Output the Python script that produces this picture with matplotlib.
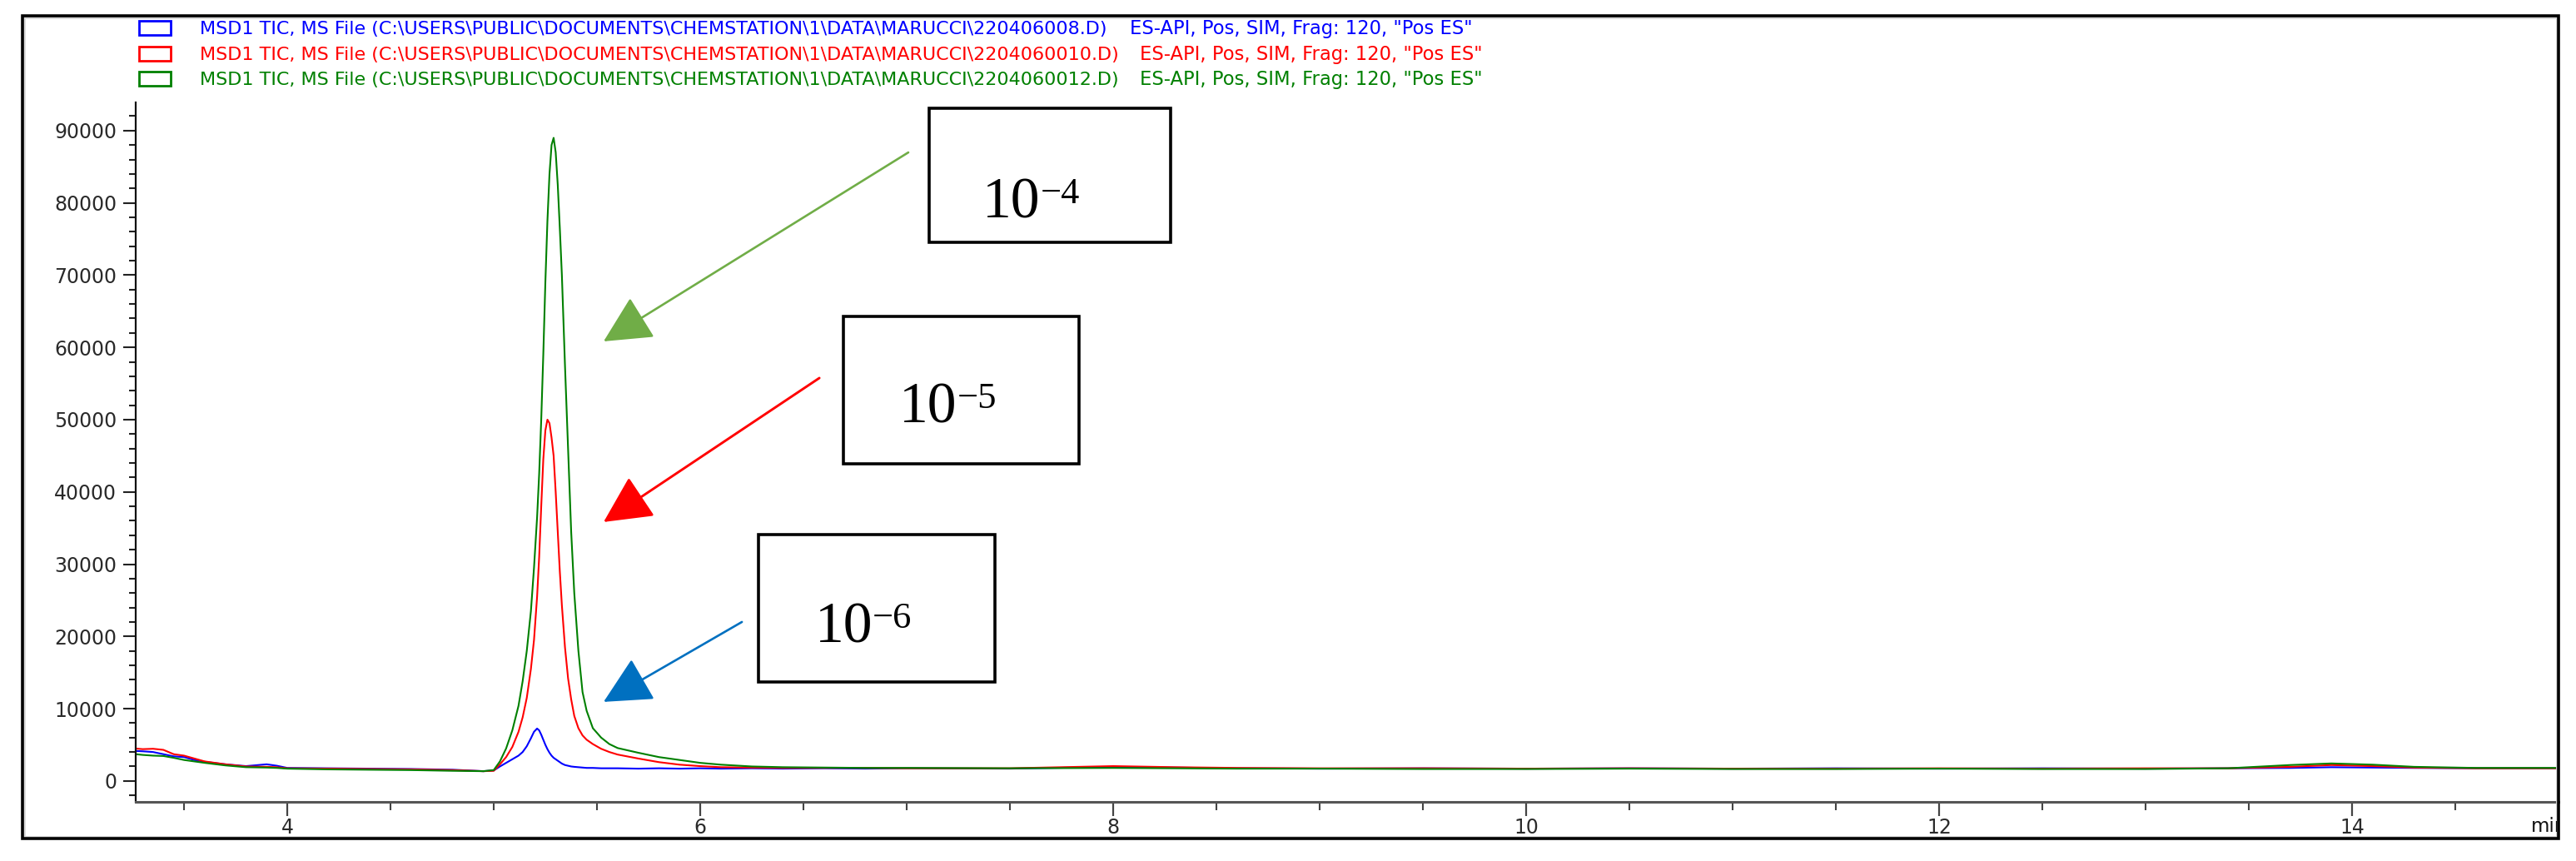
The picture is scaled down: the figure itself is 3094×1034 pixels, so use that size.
import matplotlib
matplotlib.use('Agg')
import matplotlib.pyplot as plt
from matplotlib.patches import Rectangle, FancyArrowPatch
from matplotlib.transforms import Bbox

W, H = 3094, 1034

# retention time (min)
time = [3.266, 3.3, 3.35, 3.4, 3.45, 3.5, 3.55, 3.6, 3.7, 3.8, 3.9, 3.95, 4.0, 4.2, 4.4, 4.6, 4.8, 4.95,
        5.0, 5.03, 5.06, 5.09, 5.12, 5.14, 5.16, 5.18, 5.195, 5.21, 5.22, 5.23, 5.24, 5.25, 5.26, 5.27,
        5.28, 5.29, 5.30, 5.31, 5.32, 5.33, 5.345, 5.36, 5.375, 5.39, 5.41, 5.43, 5.45, 5.48, 5.52, 5.56, 5.6,
        5.7, 5.8, 5.9, 6.0, 6.1, 6.25, 6.4, 6.6, 6.8, 7.0, 7.5, 8.0, 8.3, 8.6, 9.0, 9.5, 10.0, 10.5,
        11.0, 11.5, 12.0, 12.5, 13.0, 13.4, 13.7, 13.9, 14.1, 14.3, 14.6, 15.0]

tic_008 = [4150, 4100, 4000, 3700, 3400, 3300, 2900, 2650, 2300, 2050, 2300, 2100, 1800, 1750, 1700, 1650, 1550, 1350,
           1450, 2000, 2500, 3000, 3500, 4000, 4800, 5900, 6800, 7250, 7000, 6400, 5700, 5000, 4400, 3900,
           3500, 3200, 3000, 2800, 2600, 2400, 2200, 2100, 2000, 1950, 1900, 1850, 1800, 1800, 1750, 1750, 1750,
           1700, 1750, 1700, 1750, 1700, 1750, 1700, 1750, 1700, 1750, 1700, 1950, 1850, 1750, 1700, 1750, 1700, 1750,
           1700, 1750, 1700, 1750, 1700, 1750, 1800, 1900, 1850, 1800, 1750, 1750]

tic_010 = [4480, 4400, 4450, 4300, 3700, 3500, 3100, 2700, 2300, 2000, 1950, 1900, 1750, 1700, 1650, 1600, 1500, 1350,
           1400, 2300, 3300, 4700, 6800, 8800, 11500, 15500, 19500, 25500, 31000, 38000, 44500, 48500, 50000, 49500,
           47500, 45000, 40000, 34500, 29000, 24300, 18500, 14200, 11300, 9000, 7300, 6300, 5700, 5100, 4450, 4000, 3650,
           3100, 2600, 2250, 2050, 1900, 1850, 1800, 1800, 1800, 1750, 1750, 2050, 1900, 1800, 1750, 1750, 1700, 1750,
           1700, 1700, 1750, 1700, 1750, 1750, 1950, 2200, 2050, 1850, 1750, 1750]

tic_012 = [3700, 3600, 3500, 3450, 3200, 2900, 2700, 2500, 2150, 1900, 1850, 1800, 1700, 1600, 1550, 1500, 1400, 1350,
           1500, 2700, 4500, 7000, 10400, 13800, 18000, 23500, 29500, 36500, 42500, 50000, 59000, 69000, 77500, 84000,
           88000, 89000, 87000, 82500, 76500, 70000, 57500, 46000, 34500, 26000, 18000, 12300, 9700, 7300, 6000, 5100, 4550,
           3900, 3300, 2900, 2500, 2250, 2000, 1900, 1850, 1800, 1800, 1750, 1800, 1750, 1700, 1700, 1650, 1650, 1700,
           1650, 1650, 1700, 1650, 1650, 1750, 2200, 2420, 2250, 1950, 1800, 1800]

files = ["220406008.D", "2204060010.D", "2204060012.D"]
colors = ["#0000ff", "#ff0000", "#008000"]
labels = ["4", "5", "6"]
xticks = [4, 6, 8, 10, 12, 14]
yticks = [0, 10000, 20000, 30000, 40000, 50000, 60000, 70000, 80000, 90000]

sans = ['DejaVu Sans']
serif = ['Liberation Serif', 'DejaVu Serif']


def fx(px):
    return px / W


def fy(py):
    return 1 - py / H


fig = plt.figure(figsize=(W / 100, H / 100), dpi=100)
ax = fig.add_axes([fx(163), fy(963), fx(3073) - fx(163), fy(123) - fy(963)])

for y, c in zip([tic_008, tic_010, tic_012], colors):
    ax.plot(time, y, color=c, lw=1.5)

ax.set_xlim(3.266, 15.0)
ax.set_ylim(-2900, 93900)
ax.set_xticks(xticks)
ax.set_xticklabels([str(t) for t in xticks])
ax.set_xticks([x / 2 for x in range(7, 30)], minor=True)
ax.set_yticks(yticks)
ax.set_yticklabels([str(t) for t in yticks])
ax.set_yticks(list(range(-2000, 94000, 2000)), minor=True)

for s in ['top', 'right']:
    ax.spines[s].set_visible(False)
ax.spines['left'].set_linewidth(1.6)
ax.spines['left'].set_color('#111111')
ax.spines['bottom'].set_linewidth(2.2)
ax.spines['bottom'].set_color('#555555')

ax.tick_params(axis='y', which='major', length=10.8, width=1.5, pad=5.5, color='#222222')
ax.tick_params(axis='y', which='minor', length=5.8, width=1.5, color='#222222')
ax.tick_params(axis='x', which='major', length=12, width=1.6, pad=2.0, color='#444444')
ax.tick_params(axis='x', which='minor', length=7, width=1.5, color='#444444')
for lab in ax.get_xticklabels() + ax.get_yticklabels():
    lab.set_family(sans)
    lab.set_fontsize(17)
    lab.set_color('#2a2a2a')

# "min" unit label, cut by the frame
t = fig.text(fx(3040), fy(999), "min", family=sans, fontsize=16.5, color='#111111', va='baseline')
t.set_clip_box(Bbox.from_extents(0, 0, 3071, H))
t.set_clip_on(True)

# legend header
head_y = [41, 72, 102]
second_x = [1357, 1369, 1369]
for f, c, yb, x2 in zip(files, colors, head_y, second_x):
    fig.patches.append(Rectangle((fx(167), fy(yb + 1)), fx(205) - fx(167), fy(yb - 16) - fy(yb + 1),
                                 transform=fig.transFigure, fill=False, edgecolor=c, lw=2))
    fig.text(fx(240), fy(yb), "MSD1 TIC, MS File (C:\\USERS\\PUBLIC\\DOCUMENTS\\CHEMSTATION\\1\\DATA\\MARUCCI\\" + f + ")",
             family=sans, fontsize=16.0, color=c, va='baseline')
    fig.text(fx(x2), fy(yb), 'ES-API, Pos, SIM, Frag: 120, "Pos ES"',
             family=sans, fontsize=16.3, color=c, va='baseline')

# concentration boxes and arrows
box_x = [(7.109, 8.278), (6.694, 7.835), (6.282, 7.427)]
box_y = [(74540, 93090), (43890, 64290), (13710, 34100)]
txt_pos = [(7.367, 77995), (6.964, 49540), (6.556, 19120)]
sup_pos = [(7.650, 80010), (7.245, 51550), (6.832, 21140)]
arrow_from = [(7.008, 86980), (6.577, 55760), (6.202, 22000)]
arrow_to = [(5.532, 60830), (5.532, 35830), (5.532, 10940)]
arrow_col = ["#70ad47", "#ff0000", "#0070c0"]
arrow_lw = [1.9, 2.1, 1.9]

for i in range(3):
    x0, x1 = box_x[i]
    y0, y1 = box_y[i]
    ax.add_patch(Rectangle((x0, y0), x1 - x0, y1 - y0, fill=False, edgecolor='black', lw=2.6,
                           clip_on=False, zorder=5))
    ax.text(txt_pos[i][0], txt_pos[i][1], "10", family=serif, fontsize=50, va='baseline', ha='left', zorder=6)
    ax.text(sup_pos[i][0], sup_pos[i][1], "\u2212" + labels[i], family=serif, fontsize=32,
            va='baseline', ha='left', zorder=6)
    ax.add_patch(FancyArrowPatch(arrow_from[i], arrow_to[i],
                                 arrowstyle='-|>,head_length=36,head_width=18', mutation_scale=1,
                                 color=arrow_col[i], lw=arrow_lw[i], shrinkA=0, shrinkB=0,
                                 clip_on=False, zorder=6))

# outer frame
fig.patches.append(Rectangle((fx(29), fy(1005)), fx(3071) - fx(29), fy(21) - fy(1005),
                             transform=fig.transFigure, fill=False, edgecolor='#d8d8d8', lw=2))
fig.patches.append(Rectangle((fx(27), fy(1007)), fx(3073) - fx(27), fy(19) - fy(1007),
                             transform=fig.transFigure, fill=False, edgecolor='black', lw=2.6, zorder=10))

fig.savefig('out.png', dpi=100)
